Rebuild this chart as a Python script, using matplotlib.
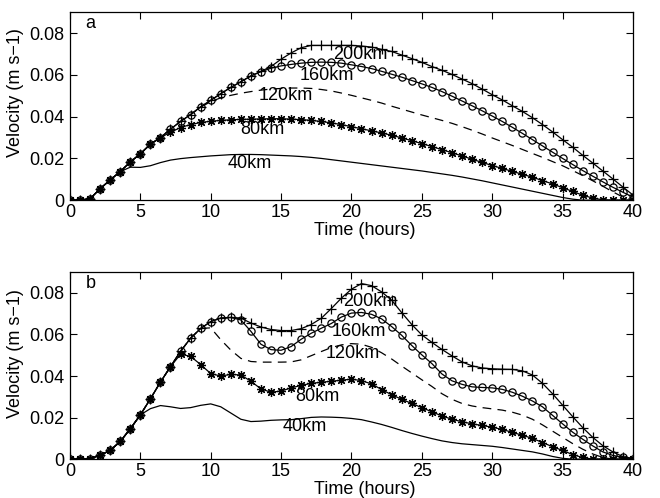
import matplotlib
matplotlib.use("Agg")
from matplotlib import pyplot as plt

plt.rcParams['font.family'] = ['Liberation Sans', 'DejaVu Sans']

# sample times (hours), one marker per sample
hours = [0, 0.714, 1.429, 2.143, 2.857, 3.571, 4.286,
         5.0, 5.714, 6.429, 7.143, 7.857, 8.571, 9.286,
         10.0, 10.714, 11.429, 12.143, 12.857, 13.571, 14.286,
         15.0, 15.714, 16.429, 17.143, 17.857, 18.571, 19.286,
         20.0, 20.714, 21.429, 22.143, 22.857, 23.571, 24.286,
         25.0, 25.714, 26.429, 27.143, 27.857, 28.571, 29.286,
         30.0, 30.714, 31.429, 32.143, 32.857, 33.571, 34.286,
         35.0, 35.714, 36.429, 37.143, 37.857, 38.571, 39.286,
         40.0]

# ---- panel a ----
a_200 = [0, 0, 0.0007, 0.0055, 0.0097, 0.0137, 0.0183,
         0.0222, 0.0268, 0.0300, 0.0340, 0.0377, 0.0410, 0.0447,
         0.0478, 0.0510, 0.0540, 0.0567, 0.0595, 0.0617, 0.0640,
         0.0675, 0.0705, 0.0730, 0.0741, 0.0741, 0.0741, 0.0741,
         0.0741, 0.0738, 0.0733, 0.0722, 0.0712, 0.0695, 0.0678,
         0.0660, 0.0640, 0.0622, 0.0602, 0.0580, 0.0558, 0.0532,
         0.0505, 0.0480, 0.0452, 0.0425, 0.0395, 0.0362, 0.0327,
         0.0290, 0.0254, 0.0215, 0.0178, 0.0140, 0.0102, 0.0063,
         0.0025]
a_160 = [0, 0, 0.0007, 0.0055, 0.0097, 0.0137, 0.0183,
         0.0222, 0.0268, 0.0300, 0.0340, 0.0377, 0.0410, 0.0447,
         0.0478, 0.0510, 0.0540, 0.0567, 0.0595, 0.0615, 0.0632,
         0.0643, 0.0650, 0.0656, 0.0660, 0.0661, 0.0660, 0.0656,
         0.0648, 0.0640, 0.0630, 0.0617, 0.0603, 0.0589, 0.0573,
         0.0557, 0.0540, 0.0520, 0.0498, 0.0475, 0.0452, 0.0428,
         0.0403, 0.0377, 0.0349, 0.0320, 0.0290, 0.0260, 0.0230,
         0.0200, 0.0171, 0.0142, 0.0115, 0.0088, 0.0062, 0.0038,
         0.0015]
a_120 = [0, 0, 0.0007, 0.0055, 0.0097, 0.0137, 0.0183,
         0.0222, 0.0268, 0.0300, 0.0340, 0.0377, 0.0410, 0.0445,
         0.0472, 0.0490, 0.0502, 0.0512, 0.0520, 0.0527, 0.0532,
         0.0535, 0.0537, 0.0537, 0.0535, 0.0530, 0.0523, 0.0513,
         0.0502, 0.0490, 0.0478, 0.0465, 0.0450, 0.0436, 0.0422,
         0.0408, 0.0395, 0.0382, 0.0368, 0.0352, 0.0335, 0.0317,
         0.0298, 0.0280, 0.0262, 0.0243, 0.0224, 0.0205, 0.0185,
         0.0165, 0.0142, 0.0118, 0.0093, 0.0067, 0.0040, 0.0015,
         0]
a_80 = [0, 0, 0.0007, 0.0055, 0.0097, 0.0137, 0.0183,
        0.0222, 0.0268, 0.0300, 0.0325, 0.0348, 0.0362, 0.0372,
        0.0378, 0.0382, 0.0385, 0.0387, 0.0388, 0.0389, 0.0390,
        0.0390, 0.0388, 0.0386, 0.0382, 0.0377, 0.0370, 0.0362,
        0.0352, 0.0342, 0.0332, 0.0322, 0.0311, 0.0298, 0.0285,
        0.0271, 0.0257, 0.0242, 0.0227, 0.0212, 0.0196, 0.0181,
        0.0166, 0.0152, 0.0138, 0.0124, 0.0110, 0.0094, 0.0078,
        0.0060, 0.0042, 0.0024, 0.0010, 0.0002, 0, 0,
        0]
a_40 = [0, 0, 0.0007, 0.0055, 0.0097, 0.0137, 0.0158,
        0.0157, 0.0165, 0.0180, 0.0192, 0.0199, 0.0204, 0.0208,
        0.0212, 0.0215, 0.0218, 0.0219, 0.0219, 0.0218, 0.0216,
        0.0214, 0.0212, 0.0209, 0.0205, 0.0200, 0.0194, 0.0188,
        0.0182, 0.0176, 0.0170, 0.0164, 0.0158, 0.0152, 0.0146,
        0.0140, 0.0133, 0.0126, 0.0119, 0.0111, 0.0102, 0.0093,
        0.0083, 0.0073, 0.0063, 0.0053, 0.0043, 0.0033, 0.0023,
        0.0013, 0.0005, 0, 0, 0, 0, 0,
        0]

# ---- panel b ----
b_200 = [0, 0, 0.0002, 0.0019, 0.0042, 0.0085, 0.0146,
         0.0213, 0.0290, 0.0371, 0.0445, 0.0519, 0.0582, 0.0629,
         0.0662, 0.0679, 0.0682, 0.0679, 0.0655, 0.0636, 0.0624,
         0.0619, 0.0619, 0.0628, 0.0648, 0.0678, 0.0725, 0.0775,
         0.0818, 0.0845, 0.0835, 0.0805, 0.0765, 0.0705, 0.0648,
         0.0598, 0.0562, 0.0528, 0.0497, 0.0468, 0.0449, 0.0439,
         0.0435, 0.0433, 0.0432, 0.0425, 0.0405, 0.0365, 0.0315,
         0.0260, 0.0205, 0.0152, 0.0105, 0.0065, 0.0035, 0.0012,
         0.0003]
b_160 = [0, 0, 0.0002, 0.0019, 0.0042, 0.0085, 0.0146,
         0.0213, 0.0290, 0.0371, 0.0445, 0.0519, 0.0582, 0.0629,
         0.0662, 0.0679, 0.0682, 0.0670, 0.0615, 0.0553, 0.0527,
         0.0524, 0.0542, 0.0577, 0.0606, 0.0630, 0.0653, 0.0684,
         0.0703, 0.0706, 0.0697, 0.0675, 0.0638, 0.0596, 0.0547,
         0.0502, 0.0460, 0.0410, 0.0377, 0.0360, 0.0348, 0.0345,
         0.0343, 0.0336, 0.0322, 0.0303, 0.0280, 0.0252, 0.0211,
         0.0170, 0.0130, 0.0096, 0.0064, 0.0035, 0.0018, 0.0009,
         0.0003]
b_120 = [0, 0, 0.0002, 0.0019, 0.0042, 0.0085, 0.0146,
         0.0213, 0.0290, 0.0371, 0.0445, 0.0519, 0.0582, 0.0629,
         0.0632, 0.0575, 0.0525, 0.0485, 0.0470, 0.0467, 0.0467,
         0.0467, 0.0468, 0.0478, 0.0498, 0.0518, 0.0537, 0.0550,
         0.0556, 0.0553, 0.0538, 0.0512, 0.0482, 0.0448, 0.0415,
         0.0382, 0.0350, 0.0315, 0.0288, 0.0268, 0.0256, 0.0248,
         0.0242, 0.0236, 0.0226, 0.0212, 0.0192, 0.0165, 0.0135,
         0.0105, 0.0075, 0.0048, 0.0025, 0.0008, 0, 0,
         0]
b_80 = [0, 0, 0.0002, 0.0019, 0.0042, 0.0085, 0.0146,
        0.0213, 0.0290, 0.0371, 0.0445, 0.0505, 0.0495, 0.0455,
        0.0412, 0.0400, 0.0408, 0.0405, 0.0375, 0.0338, 0.0322,
        0.0328, 0.0343, 0.0355, 0.0365, 0.0370, 0.0375, 0.0380,
        0.0385, 0.0378, 0.0362, 0.0335, 0.0310, 0.0288, 0.0268,
        0.0248, 0.0228, 0.0208, 0.0192, 0.0180, 0.0170, 0.0162,
        0.0154, 0.0143, 0.0129, 0.0115, 0.0100, 0.0080, 0.0060,
        0.0042, 0.0022, 0.0008, 0, 0, 0, 0,
        0]
b_40 = [0, 0, 0.0002, 0.0019, 0.0042, 0.0085, 0.0146,
        0.0213, 0.0243, 0.0258, 0.0252, 0.0244, 0.0248, 0.0259,
        0.0266, 0.0252, 0.0222, 0.0192, 0.0181, 0.0183, 0.0187,
        0.0189, 0.0190, 0.0195, 0.0201, 0.0203, 0.0202, 0.0200,
        0.0196, 0.0190, 0.0179, 0.0167, 0.0153, 0.0138, 0.0124,
        0.0111, 0.0099, 0.0088, 0.0080, 0.0074, 0.0070, 0.0066,
        0.0062, 0.0056, 0.0049, 0.0042, 0.0035, 0.0025, 0.0013,
        0.0004, 0, 0, 0, 0, 0, 0,
        0]

labels = ["200km", "160km", "120km", "80km", "40km"]
# label anchor points (hours, velocity) for each panel
a_label_pos = [(18.7, 0.0696), (16.3, 0.0595), (13.4, 0.0500), (12.1, 0.0340), (11.2, 0.0175)]
b_label_pos = [(19.4, 0.0758), (18.6, 0.0615), (18.2, 0.0508), (16.0, 0.0300), (15.1, 0.0158)]

x_ticks = [0, 5, 10, 15, 20, 25, 30, 35, 40]
y_ticks = [0, 0.02, 0.04, 0.06, 0.08]
y_tick_labels = ["0", "0.02", "0.04", "0.06", "0.08"]

FS = 13
asterisk = (8, 2, 0)


def draw_panel(ax, series, label_pos, letter, ylab_y):
    s200, s160, s120, s80, s40 = series
    ax.plot(hours, s40, color="black", lw=0.9)
    ax.plot(hours, s80, color="black", lw=0.9, marker=asterisk, ms=6.5, mew=0.9)
    ax.plot(hours, s120, color="black", lw=0.9, dashes=(7, 5))
    ax.plot(hours, s160, color="black", lw=0.9, marker="o", ms=5.2, mfc="none", mew=0.9)
    ax.plot(hours, s200, color="black", lw=0.9, marker="+", ms=6.5, mew=0.9)

    for name, (x, y) in zip(labels, label_pos):
        ax.text(x, y, name, fontsize=FS, ha="left", va="center")
    ax.text(1.1, y_ticks[-1] + 0.0045, letter, fontsize=FS, ha="left", va="center")

    ax.set_xlim(0, 40)
    ax.set_ylim(0, 0.09)
    ax.set_xticks(x_ticks)
    ax.set_yticks(y_ticks)
    ax.set_yticklabels(y_tick_labels)
    ax.tick_params(direction="in", top=True, right=True, length=5, width=0.8,
                   labelsize=FS)
    ax.tick_params(axis="x", pad=3)
    ax.tick_params(axis="y", pad=4)
    for sp in ax.spines.values():
        sp.set_linewidth(0.9)
    ax.set_xlabel("Time (hours)", fontsize=FS)
    ax.set_ylabel("Velocity (m s\u22121)", fontsize=FS)
    ax.xaxis.set_label_coords(0.524, -0.115)
    ax.yaxis.set_label_coords(-0.082, ylab_y)


fig = plt.figure(figsize=(6.6, 4.98), dpi=100)
ax_a = fig.add_axes([0.106, 0.598, 0.853, 0.3775])
ax_b = fig.add_axes([0.106, 0.078, 0.853, 0.3755])

draw_panel(ax_a, [a_200, a_160, a_120, a_80, a_40], a_label_pos, "a", 0.57)
draw_panel(ax_b, [b_200, b_160, b_120, b_80, b_40], b_label_pos, "b", 0.567)

fig.savefig("out.png", dpi=100)
